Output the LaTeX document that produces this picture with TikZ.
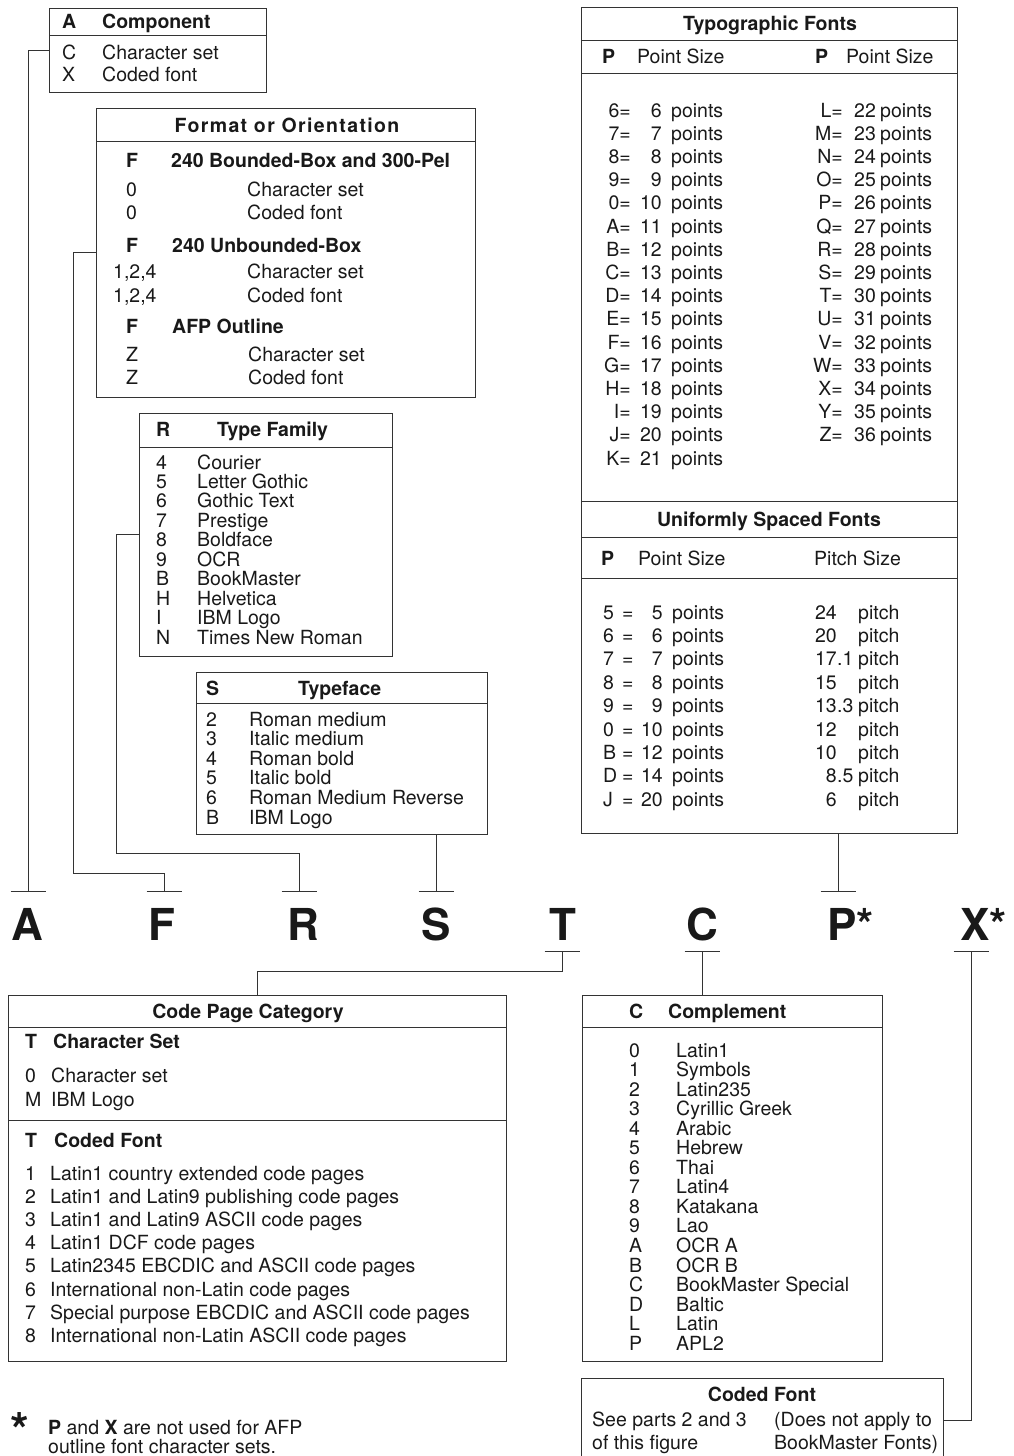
\documentclass[tikz,border=0pt]{standalone}
\usepackage{fontspec}
\setmainfont{TeX Gyre Heros}
\newcommand{\fs}{\fontsize{19.5}{21}\selectfont}
\tikzset{
  box/.style={draw=black!80, line width=0.9pt, rectangle, inner sep=0pt, anchor=north west},
  txt/.style={anchor=base west, inner sep=0pt, font=\fs, text=black!90},
  txtr/.style={txt, anchor=base east},
  bld/.style={txt, font=\fs\bfseries},
  ttl/.style={bld, anchor=base},
  big/.style={anchor=base, inner sep=0pt, text=black!90, font=\fontsize{44}{44}\selectfont\bfseries},
  wire/.style={draw=black!80, line width=0.9pt},
}
\begin{document}
\begin{tikzpicture}[x=1pt,y=-1pt]
	\useasboundingbox (0,0) rectangle (1013,1456);
	\clip (0,0) rectangle (1013,1456);
	% boxes
	\node[box, minimum width=217pt, minimum height=84pt] (compbox) at (49,8) {};
	\node[box, minimum width=379pt, minimum height=289pt] (fmtbox) at (96,108) {};
	\node[box, minimum width=253pt, minimum height=243pt] (famybox) at (139,413) {};
	\node[box, minimum width=291pt, minimum height=162pt] (facebox) at (196,672) {};
	\node[box, minimum width=376pt, minimum height=826pt] (typobox) at (581,7) {};
	\node[box, minimum width=498pt, minimum height=366pt] (cpbox) at (8,995) {};
	\node[box, minimum width=300pt, minimum height=366pt] (cmplbox) at (582,995) {};
	\node[box, minimum width=362pt, minimum height=140pt] (cfbox) at (581,1378) {};
	\draw[wire] (compbox.west |- 0,35) -- (compbox.east |- 0,35);
	\draw[wire] (fmtbox.west |- 0,141) -- (fmtbox.east |- 0,141);
	\draw[wire] (famybox.west |- 0,447) -- (famybox.east |- 0,447);
	\draw[wire] (facebox.west |- 0,703) -- (facebox.east |- 0,703);
	\foreach \y in {40,73,501,537,578}
		\draw[wire] (typobox.west |- 0,\y) -- (typobox.east |- 0,\y);
	\draw[wire] (cpbox.west |- 0,1027) -- (cpbox.east |- 0,1027);
	\draw[wire] (cpbox.west |- 0,1120) -- (cpbox.east |- 0,1120);
	\draw[wire] (cmplbox.west |- 0,1027) -- (cmplbox.east |- 0,1027);
	% component
	\node[bld] (ca) at (62,28) {A};
	\node[bld] (cah) at (102,28) {Component};
	\node[txt] (cc) at (62,59) {C};
	\node[txt] (cct) at (102,59) {Character set};
	\node[txt] (cx) at (62,81) {X};
	\node[txt] (cxt) at (102,81) {Coded font};
	% format or orientation
	\node[ttl, font=\fs\bfseries\addfontfeatures{LetterSpace=7}] (fh) at (287,132) {Format or Orientation};
	\node[bld] (f1) at (126,167) {F};
	\node[bld] (f1t) at (171,167) {240 Bounded-Box and 300-Pel};
	\node[txt] (f2) at (126,196) {0};
	\node[txt] (f2t) at (247,196) {Character set};
	\node[txt] (f3) at (126,219) {0};
	\node[txt] (f3t) at (247,219) {Coded font};
	\node[bld] (f4) at (126,252) {F};
	\node[bld] (f4t) at (172,252) {240 Unbounded-Box};
	\node[txt] (f5) at (113,278) {1,2,4};
	\node[txt] (f5t) at (247,278) {Character set};
	\node[txt] (f6) at (113,302) {1,2,4};
	\node[txt] (f6t) at (247,302) {Coded font};
	\node[bld] (f7) at (126,333) {F};
	\node[bld] (f7t) at (172,333) {AFP Outline};
	\node[txt] (f8) at (126,361) {Z};
	\node[txt] (f8t) at (248,361) {Character set};
	\node[txt] (f9) at (126,384) {Z};
	\node[txt] (f9t) at (248,384) {Coded font};
	% type family
	\node[bld] (rh) at (156,436) {R};
	\node[bld] (rht) at (217,436) {Type Family};
	\foreach \k/\t [count=\i from 0] in {4/Courier,5/Letter Gothic,6/Gothic Text,7/Prestige,8/Boldface,9/OCR,B/BookMaster,H/Helvetica,I/IBM Logo,N/Times New Roman}{
		\node[txt] (rk\i) at (156,{469+19.45*\i}) {\k};
		\node[txt] (rt\i) at (197,{469+19.45*\i}) {\t};
	}
	% typeface
	\node[bld] (sh) at (206,695) {S};
	\node[bld] (sht) at (298,695) {Typeface};
	\foreach \k/\t [count=\i from 0] in {2/Roman medium,3/Italic medium,4/Roman bold,5/Italic bold,6/Roman Medium Reverse,B/IBM Logo}{
		\node[txt] (sk\i) at (206,{726+19.6*\i}) {\k};
		\node[txt] (st\i) at (249,{726+19.6*\i}) {\t};
	}
	% typographic fonts
	\node[ttl] (th) at (770,30) {Typographic Fonts};
	\node[bld] (tp1) at (602,63) {P};
	\node[txt] (tps1) at (637,63) {Point Size};
	\node[bld] (tp2) at (815,63) {P};
	\node[txt] (tps2) at (846,63) {Point Size};
	\foreach \k/\n [count=\i from 0] in {6/6,7/7,8/8,9/9,0/10,A/11,B/12,C/13,D/14,E/15,F/16,G/17,H/18,I/19,J/20,K/21}{
		\node[txtr] (tlk\i) at (631,{117+23.2*\i}) {\k=};
		\node[txtr] (tln\i) at (662,{117+23.2*\i}) {\n};
		\node[txt] (tlp\i) at (671,{117+23.2*\i}) {points};
	}
	\foreach \k/\n [count=\i from 0] in {L/22,M/23,N/24,O/25,P/26,Q/27,R/28,S/29,T/30,U/31,V/32,W/33,X/34,Y/35,Z/36}{
		\node[txtr] (trk\i) at (843,{117+23.2*\i}) {\k=};
		\node[txt] (trn\i) at (854,{117+23.2*\i}) {\n};
		\node[txt] (trp\i) at (880,{117+23.2*\i}) {points};
	}
	% uniformly spaced fonts
	\node[ttl] (uh) at (769,526) {Uniformly Spaced Fonts};
	\node[bld] (up) at (601,565) {P};
	\node[txt] (ups) at (638,565) {Point Size};
	\node[txt] (upi) at (814,565) {Pitch Size};
	\foreach \k/\n/\a/\b [count=\i from 0] in {5/5/24/{},6/6/20/{},7/7/17/.1,8/8/15/{},9/9/13/.3,0/10/12/{},B/12/10/{},D/14/8/.5,J/20/6/{}}{
		\node[txt] (uk\i) at (603,{619+23.4*\i}) {\k};
		\node[txt] (ue\i) at (622,{619+23.4*\i}) {=};
		\node[txtr] (un\i) at (663,{619+23.4*\i}) {\n};
		\node[txt] (up\i) at (672,{619+23.4*\i}) {points};
		\node[txtr] (ua\i) at (837,{619+23.4*\i}) {\a};
		\node[txt] (ub\i) at (837,{619+23.4*\i}) {\b};
		\node[txt] (uc\i) at (858,{619+23.4*\i}) {pitch};
	}
	% letter row
	\node[big] (lA) at (27,940) {A};
	\node[big] (lF) at (162,940) {F};
	\node[big] (lR) at (303,940) {R};
	\node[big] (lS) at (436,940) {S};
	\node[big] (lT) at (563,940) {T};
	\node[big] (lC) at (702,940) {C};
	\node[big, anchor=base west] (lP) at (827,940) {P*};
	\node[big, anchor=base west] (lX) at (960,940) {X*};
	\coordinate (tA) at (28,891);
	\coordinate (tF) at (164,891);
	\coordinate (tR) at (299,891);
	\coordinate (tS) at (436,891);
	\coordinate (tP) at (838,891);
	\coordinate (tT) at (562,951);
	\coordinate (tC) at (702,951);
	\coordinate (tX) at (971,951);
	\foreach \t in {tA,tF,tR,tS,tP,tT,tC,tX}
		\draw[wire] (\t) ++(-17.5,0) -- ++(35,0);
	% connectors
	\draw[wire] (compbox.west |- 0,50) -| (tA);
	\draw[wire] (fmtbox.west |- 0,252) -| (73,873) -| (tF);
	\draw[wire] (famybox.west |- 0,534) -| (116,853) -| (tR);
	\draw[wire] (facebox.south -| tS) -- (tS);
	\draw[wire] (typobox.south -| tP) -- (tP);
	\draw[wire] (tT) |- (257,971) -- (cpbox.north -| 257,0);
	\draw[wire] (tC) -- (cmplbox.north -| tC);
	\draw[wire] (tX) |- (cfbox.east |- 0,1420);
	% code page category
	\node[ttl] (cph) at (248,1018) {Code Page Category};
	\node[bld] (cpt1) at (25,1048) {T};
	\node[bld] (cpt1t) at (53,1048) {Character Set};
	\node[txt] (cp0) at (25,1082) {0};
	\node[txt] (cp0t) at (51,1082) {Character set};
	\node[txt] (cpm) at (25,1106) {M};
	\node[txt] (cpmt) at (51,1106) {IBM Logo};
	\node[bld] (cpt2) at (25,1147) {T};
	\node[bld] (cpt2t) at (54,1147) {Coded Font};
	\foreach \t [count=\i from 1] in {Latin1 country extended code pages,Latin1 and Latin9 publishing code pages,Latin1 and Latin9 ASCII code pages,Latin1 DCF code pages,Latin2345 EBCDIC and ASCII code pages,International non-Latin code pages,Special purpose EBCDIC and ASCII code pages,International non-Latin ASCII code pages}{
		\node[txt] (cpk\i) at (25,{1180+23.2*(\i-1)}) {\i};
		\node[txt] (cpr\i) at (50,{1180+23.2*(\i-1)}) {\t};
	}
	% complement
	\node[bld] (ch) at (629,1018) {C};
	\node[bld] (cht) at (668,1018) {Complement};
	\foreach \k/\t [count=\i from 0] in {0/Latin1,1/Symbols,2/Latin235,3/Cyrillic Greek,4/Arabic,5/Hebrew,6/Thai,7/Latin4,8/Katakana,9/Lao,A/OCR A,B/OCR B,C/BookMaster Special,D/Baltic,L/Latin,P/APL2}{
		\node[txt] (mk\i) at (629,{1057+19.55*\i}) {\k};
		\node[txt] (mt\i) at (676,{1057+19.55*\i}) {\t};
	}
	% coded font
	\node[ttl] (cfh) at (762,1401) {Coded Font};
	\node[txt] (cf1) at (592,1426) {See parts 2 and 3};
	\node[txt] (cf2) at (592,1449) {of this figure};
	\node[txt] (cf3) at (774,1426) {(Does not apply to};
	\node[txt] (cf4) at (774,1449) {BookMaster Fonts)};
	% footnote
	\node[anchor=base west, inner sep=0pt, text=black!90, font=\fontsize{48}{48}\selectfont\bfseries] (star) at (10,1447) {*};
	\node[txt] (fn1) at (48,1434) {\textbf{P} and \textbf{X} are not used for AFP};
	\node[txt] (fn2) at (48,1453) {outline font character sets.};
\end{tikzpicture}
\end{document}
